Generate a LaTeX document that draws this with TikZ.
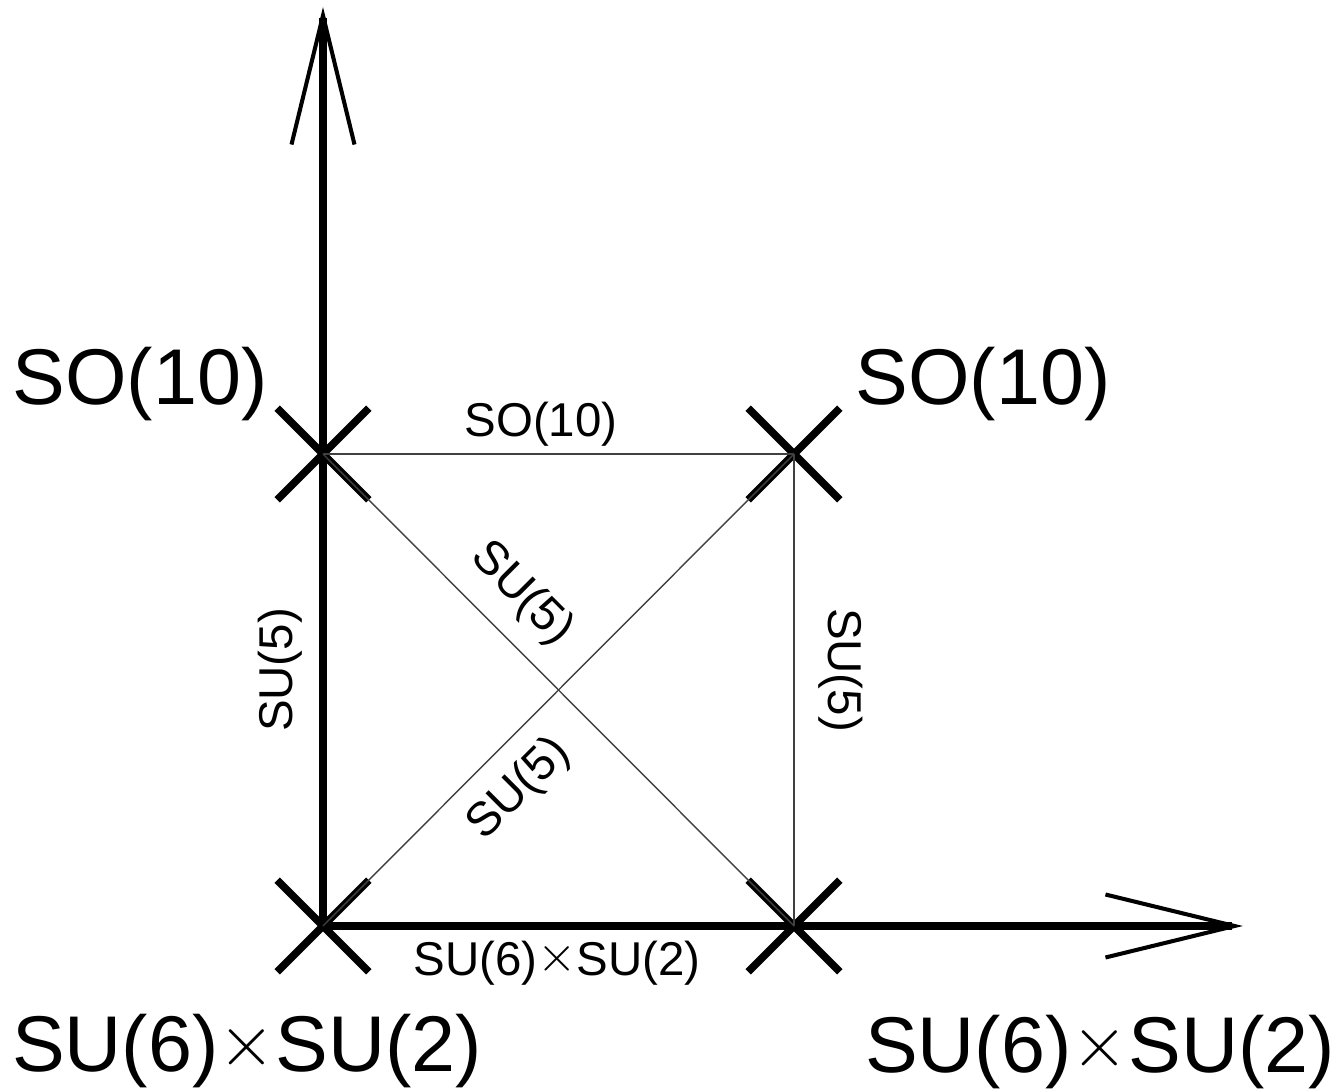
\documentclass[tikz,border=0pt]{standalone}
\usepackage{fontspec}
\setmainfont{Liberation Sans}
\usetikzlibrary{shapes.misc,arrows.meta}
\newcommand{\gtimes}{\raisebox{0.07em}{$\mathord{\times}$}}
\tikzset{
    breaking/.style={draw, cross out, line width=2.2pt, minimum size=0.84cm, inner sep=0pt},
    axis/.style={line width=2.2pt, -{Straight Barb[length=1.29cm, width=0.63cm, line width=1.15pt, sharp]}},
    flow/.style={line width=0.4pt, black!75},
    biglabel/.style={font=\fontsize{22.5}{27}\selectfont, inner sep=0pt, anchor=base},
    smalllabel/.style={font=\fontsize{13.5}{16}\selectfont, inner sep=0pt, anchor=base}
}
\begin{document}
\begin{tikzpicture}
        \useasboundingbox (-3.23,-1.65) rectangle (10.19,9.26);
        % Vacua
            \node[breaking] (A) at (0,4.72) {};
            \node[breaking] (B) at (4.71,4.72) {};
            \node[breaking] (C) at (0,0) {};
            \node[breaking] (D) at (4.71,0) {};
            \coordinate (ytip) at (0,9.19);
            \coordinate (xtip) at (9.20,0);
        % Axes
            \draw[axis] (C.center) -- (ytip);
            \draw[axis] (C.center) -- (xtip);
        % Paths
            \draw[flow] (A.center) -- (B.center);
            \draw[flow] (B.center) -- (D.center);
            \draw[flow] (A.center) -- (D.center);
            \draw[flow] (C.center) -- (B.center);
        % Path labels
            \node[smalllabel] (lAB) at (2.18,4.89) {SO(10)};
            \node[smalllabel] (lCD) at (2.34,-0.49) {SU(6)\gtimes SU(2)};
            \node[smalllabel,rotate=90] (lAC) at (-0.31,2.56) {SU(5)};
            \node[smalllabel,rotate=-90] (lBD) at (5.05,2.56) {SU(5)};
            \node[smalllabel,rotate=-45] (lAD) at (1.90,3.235) {SU(5)};
            \node[smalllabel,rotate=45] (lCB) at (2.05,1.28) {SU(5)};
        % Vacuum labels
            \node[biglabel] (nA) at (-1.83,5.21) {SO(10)};
            \node[biglabel] (nB) at (6.60,5.21) {SO(10)};
            \node[biglabel] (nC) at (-0.76,-1.45) {SU(6)\gtimes SU(2)};
            \node[biglabel] (nD) at (7.77,-1.46) {SU(6)\gtimes SU(2)};
        \end{tikzpicture}
\end{document}
